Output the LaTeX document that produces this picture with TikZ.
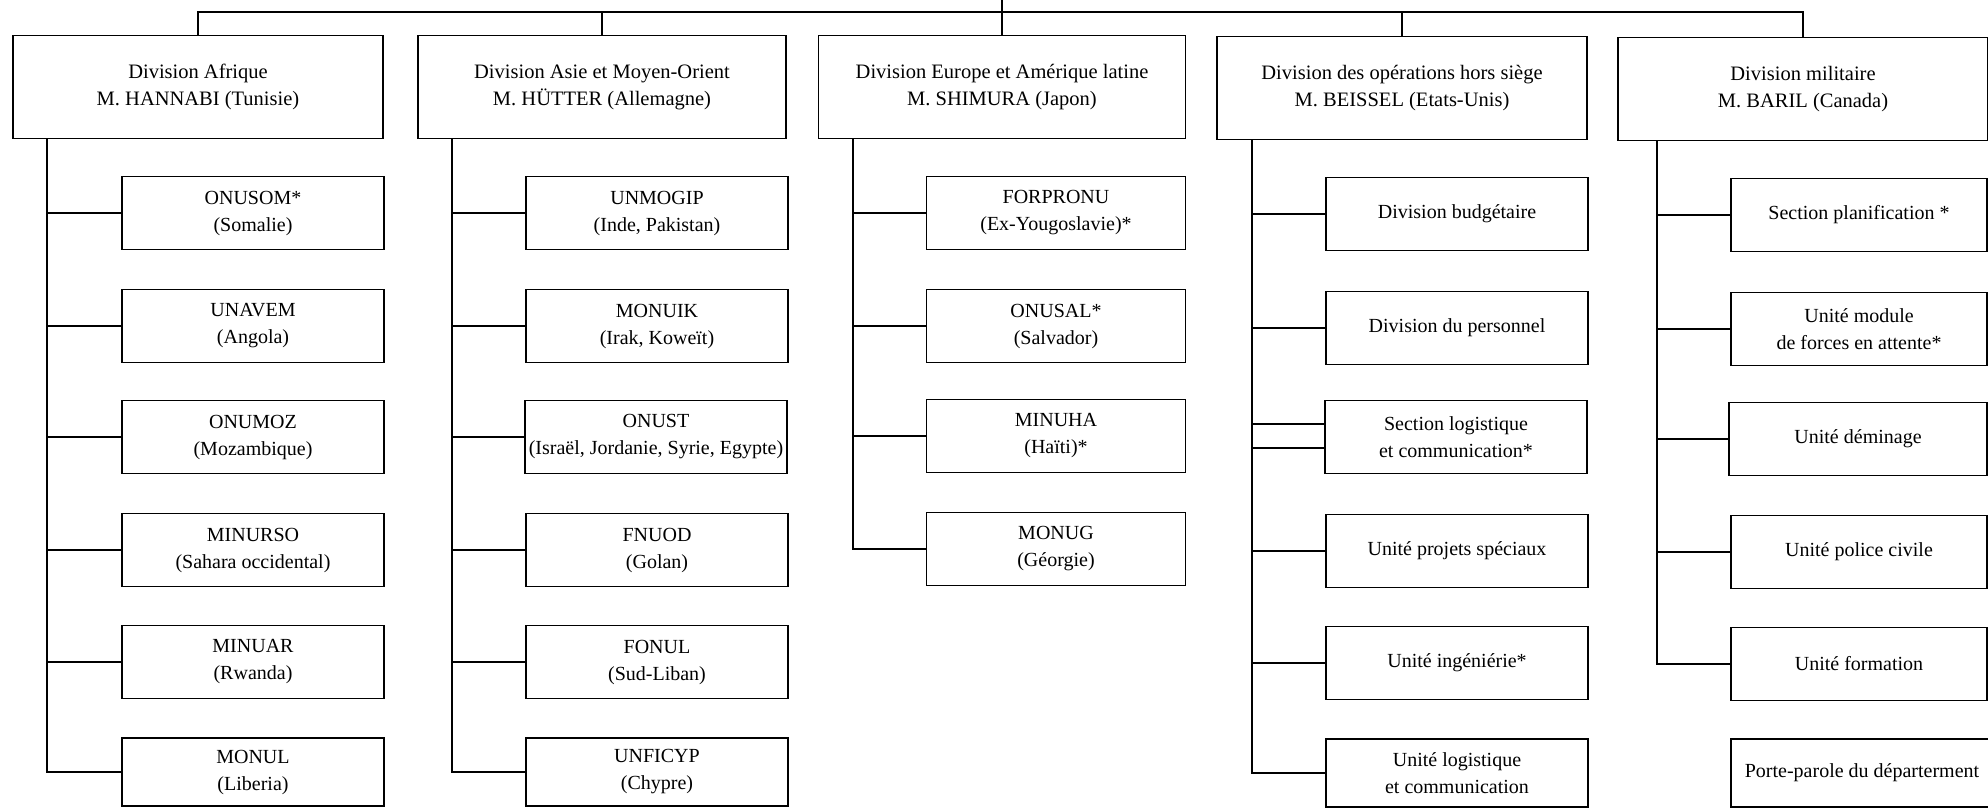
\documentclass[tikz,border=0pt]{standalone}
\usepackage{fontspec}
\setmainfont{Liberation Serif}
\begin{document}
\begin{tikzpicture}[x=1pt,y=-1pt,
  line width=1.6pt,
  head/.style={draw, rectangle, minimum width=370pt, minimum height=103pt, inner sep=0pt, align=center,
    font=\fontsize{20.5}{27}\selectfont},
  unit/.style={draw, rectangle, minimum width=262pt, minimum height=73pt, inner sep=0pt, align=center,
    font=\fontsize{20}{27}\selectfont},
  lastunit/.style={unit, minimum height=68pt},
  link/.style={line width=1.6pt}]
\useasboundingbox (0,0) rectangle (1988,807);
\clip (0,0) rectangle (1988,807);

% heads
\node[head] (h1) at (198,87)  {Division Afrique\\M. HANNABI (Tunisie)};
\node[head, minimum width=368pt] (h2) at (602,87)  {Division Asie et Moyen-Orient\\M. HÜTTER (Allemagne)};
\node[head, minimum width=367pt] (h3) at (1002,87) {Division Europe et Amérique latine\\M. SHIMURA (Japon)};
\node[head] (h4) at (1402,88) {Division des opérations hors siège\\M. BEISSEL (Etats-Unis)};
\node[head] (h5) at (1803,89) {Division militaire\\M. BARIL (Canada)};

\coordinate (top) at (1002,0);
\coordinate (bar) at (0,12);
\draw[link] (h1.north) -- (h1.north |- bar) -- (h5.north |- bar) -- (h5.north);
\draw[link] (h2.north) -- (h2.north |- bar);
\draw[link] (h4.north) -- (h4.north |- bar);
\draw[link] (top) -- (h3.north);

% column 1
\node[unit] (c11) at (253,213) {ONUSOM*\\(Somalie)};
\node[unit] (c12) at (253,326) {UNAVEM\\(Angola)};
\node[unit] (c13) at (253,437) {ONUMOZ\\(Mozambique)};
\node[unit] (c14) at (253,550) {MINURSO\\(Sahara occidental)};
\node[unit] (c15) at (253,662) {MINUAR\\(Rwanda)};
\node[lastunit] (c16) at (253,772) {MONUL\\(Liberia)};

% column 2
\node[unit] (c21) at (657,213) {UNMOGIP\\(Inde, Pakistan)};
\node[unit] (c22) at (657,326) {MONUIK\\(Irak, Koweït)};
\node[unit] (c23) at (656,437) {ONUST\\(Israël, Jordanie, Syrie, Egypte)};
\node[unit] (c24) at (657,550) {FNUOD\\(Golan)};
\node[unit] (c25) at (657,662) {FONUL\\(Sud-Liban)};
\node[lastunit] (c26) at (657,772) {UNFICYP\\(Chypre)};

% column 3
\node[unit, minimum width=259pt] (c31) at (1056,213) {FORPRONU\\(Ex-Yougoslavie)*};
\node[unit, minimum width=259pt] (c32) at (1056,326) {ONUSAL*\\(Salvador)};
\node[unit, minimum width=259pt] (c33) at (1056,436) {MINUHA\\(Haïti)*};
\node[unit, minimum width=259pt] (c34) at (1056,549) {MONUG\\(Géorgie)};

% column 4
\node[unit] (c41) at (1457,214) {Division budgétaire};
\node[unit] (c42) at (1457,328) {Division du personnel};
\node[unit] (c43) at (1456,437) {Section logistique\\et communication*};
\node[unit] (c44) at (1457,551) {Unité projets spéciaux};
\node[unit] (c45) at (1457,663) {Unité ingéniérie*};
\node[lastunit] (c46) at (1457,773) {Unité logistique\\et communication};

% column 5
\node[unit, minimum width=256pt] (c51) at (1859,215) {Section planification *};
\node[unit, minimum width=256pt] (c52) at (1859,329) {Unité module\\de forces en attente*};
\node[unit, minimum width=258pt] (c53) at (1858,439) {Unité déminage};
\node[unit, minimum width=256pt] (c54) at (1859,552) {Unité police civile};
\node[unit, minimum width=256pt] (c55) at (1859,664) {Unité formation};
\node[lastunit, minimum width=262pt] (c56) at (1862,773) {Porte-parole du départerment};

% spines
\draw[link] (h1.south west) ++(35,0) coordinate (s1) |- (c16.west);
\foreach \i in {1,...,5} \draw[link] (s1 |- c1\i.west) -- (c1\i.west);

\draw[link] (h2.south west) ++(35,0) coordinate (s2) |- (c26.west);
\foreach \i in {1,...,5} \draw[link] (s2 |- c2\i.west) -- (c2\i.west);

\draw[link] (h3.south west) ++(35,0) coordinate (s3) |- (c34.west);
\foreach \i in {1,...,3} \draw[link] (s3 |- c3\i.west) -- (c3\i.west);

\draw[link] (h4.south west) ++(36,0) coordinate (s4) |- ([yshift=-11pt]c43.west);
\foreach \i in {1,2} \draw[link] (s4 |- c4\i.west) -- (c4\i.west);
\draw[link] ([yshift=13pt]c43.west) -| (s4 |- c46.west) -- (c46.west);
\foreach \i in {4,5} \draw[link] (s4 |- c4\i.west) -- (c4\i.west);

\draw[link] (h5.south west) ++(40,0) coordinate (s5) |- (c55.west);
\foreach \i in {1,...,4} \draw[link] (s5 |- c5\i.west) -- (c5\i.west);
\end{tikzpicture}
\end{document}
